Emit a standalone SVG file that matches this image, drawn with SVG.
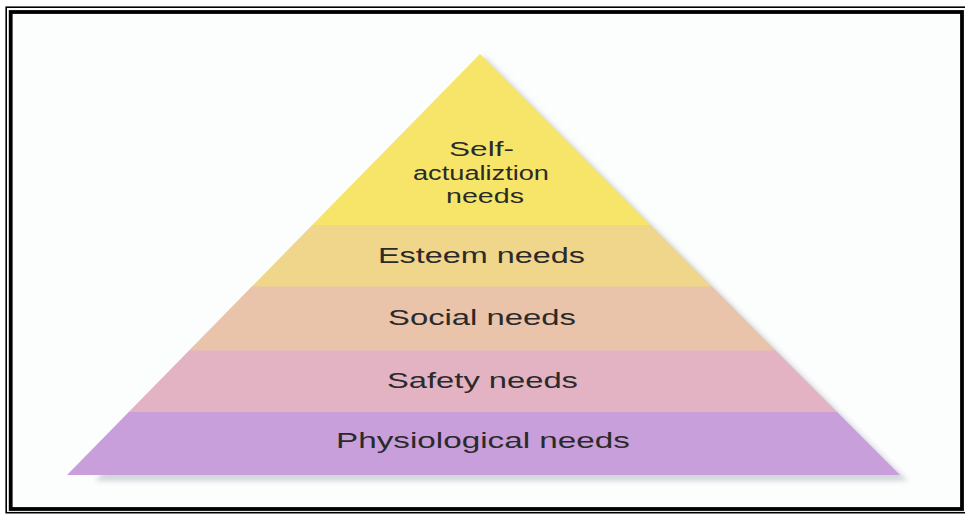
<svg xmlns="http://www.w3.org/2000/svg" width="965" height="517" viewBox="0 0 965 517">
  <defs>
    <style>
      .lbl { font-family: "Liberation Sans", Arial, Helvetica, sans-serif; font-size: 22px; fill: #2b2a2a; text-anchor: start; }
      .lbl.top { font-size: 19.5px; }
      .frame-thin { fill: none; stroke: #000; stroke-width: 1.6; }
      .frame-thick { fill: none; stroke: #000; stroke-width: 3.8; }
    </style>
    <clipPath id="pyr">
      <polygon points="480,54 67,475 900,475"/>
    </clipPath>
    <filter id="soft" x="-10%" y="-10%" width="120%" height="130%">
      <feGaussianBlur stdDeviation="2.5"/>
    </filter>
  </defs>

  <!-- page -->
  <rect x="0" y="0" width="965" height="517" fill="#ffffff"/>
  <rect x="12" y="14" width="948" height="494" fill="#fcfdfd"/>

  <!-- double frame -->
  <rect class="frame-thin" x="6.2" y="7.2" width="962" height="505.5"/>
  <rect class="frame-thick" x="10.7" y="12" width="951.3" height="497"/>

  <!-- drop shadow along the right side and under the base -->
  <polygon points="484,56 95,481 908,481" fill="#b7bec5" opacity="0.6" filter="url(#soft)"/>

  <!-- pyramid tiers -->
  <g clip-path="url(#pyr)">
    <g id="tier-self">
      <rect x="60" y="50" width="850" height="175.5" fill="#f6e569"/>
    </g>
    <g id="tier-esteem">
      <rect x="60" y="225" width="850" height="62" fill="#f0d68b"/>
    </g>
    <g id="tier-social">
      <rect x="60" y="286.5" width="850" height="64.5" fill="#e9c3aa"/>
    </g>
    <g id="tier-safety">
      <rect x="60" y="350.5" width="850" height="62" fill="#e3b3c3"/>
    </g>
    <g id="tier-physiological">
      <rect x="60" y="412" width="850" height="64" fill="#c99fdb"/>
    </g>
  </g>

  <!-- tier labels -->
  <g id="labels">
    <text class="lbl top" x="449" y="156" textLength="65" lengthAdjust="spacingAndGlyphs">Self-</text>
    <text class="lbl top" x="413" y="179.5" textLength="136" lengthAdjust="spacingAndGlyphs">actualiztion</text>
    <text class="lbl top" x="446" y="203" textLength="78" lengthAdjust="spacingAndGlyphs">needs</text>
    <text class="lbl" x="378" y="263" textLength="207" lengthAdjust="spacingAndGlyphs">Esteem needs</text>
    <text class="lbl" x="388" y="325" textLength="188" lengthAdjust="spacingAndGlyphs">Social needs</text>
    <text class="lbl" x="387" y="388" textLength="191" lengthAdjust="spacingAndGlyphs">Safety needs</text>
    <text class="lbl" x="336" y="448" textLength="294" lengthAdjust="spacingAndGlyphs">Physiological needs</text>
  </g>
</svg>
